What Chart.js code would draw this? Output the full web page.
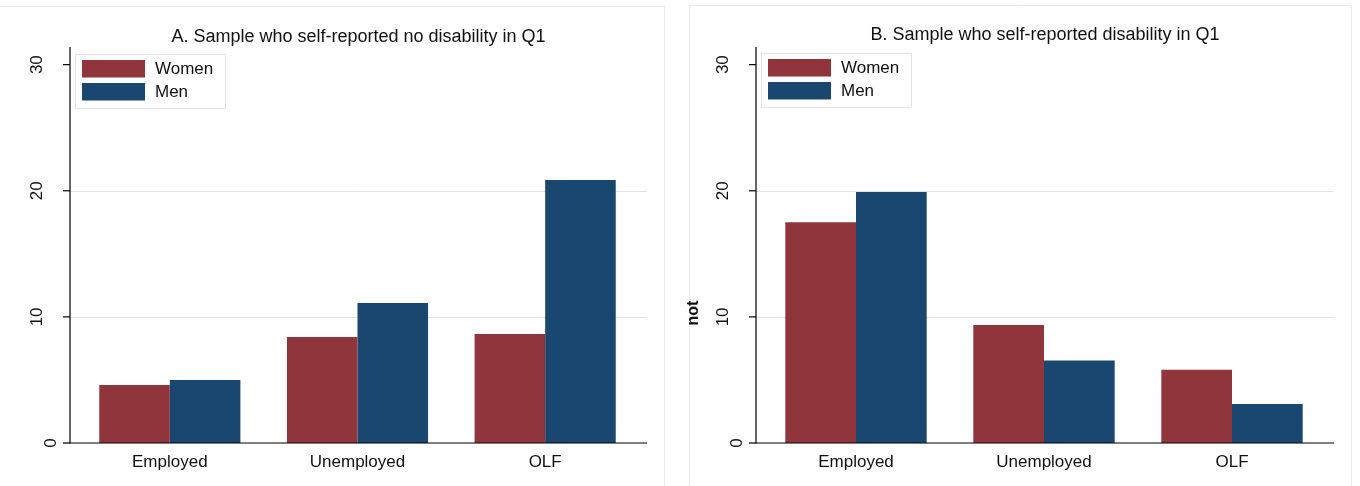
<!DOCTYPE html>
<html><head><meta charset="utf-8">
<script src="https://cdn.jsdelivr.net/npm/chart.js@4.4.1/dist/chart.umd.min.js"></script>
<style>
html,body{margin:0;padding:0;background:#fff;}
#wrap{position:relative;width:1360px;height:486px;overflow:hidden;}
canvas{position:absolute;top:0;}
</style></head><body>
<div id="wrap">
<canvas id="cA" width="680" height="486" style="left:0;width:680px;height:486px"></canvas>
<canvas id="cB" width="680" height="486" style="left:680px;width:680px;height:486px"></canvas>
</div>
<script>
const categories = ['Employed', 'Unemployed', 'OLF'];
const seriesNames = ['Women', 'Men'];
const womenNoDisability = [4.6, 8.4, 8.65];
const menNoDisability = [5.0, 11.1, 20.85];
const womenDisability = [17.5, 9.35, 5.8];
const menDisability = [19.9, 6.55, 3.1];
const yTicks = [0, 10, 20, 30];
const titleA = 'A. Sample who self-reported no disability in Q1';
const titleB = 'B. Sample who self-reported disability in Q1';
const yTitleB = 'not';
const seriesColors = ['#90353B', '#1A476F'];
const FONT = '"Liberation Sans", Arial, Helvetica, sans-serif';

function panelPlugin(p) {
  return {
    id: 'panel',
    beforeDatasetsDraw(chart) {
      const ctx = chart.ctx, ys = chart.scales.y;
      ctx.save();
      ctx.strokeStyle = '#e2e2e2';
      ctx.lineWidth = 1;
      for (let i = 1; i < yTicks.length - 1; i++) {
        const y = Math.round(ys.getPixelForValue(yTicks[i])) + 0.5;
        ctx.beginPath(); ctx.moveTo(p.axisX, y); ctx.lineTo(p.gridEnd, y); ctx.stroke();
      }
      ctx.restore();
    },
    afterDraw(chart) {
      const ctx = chart.ctx, ys = chart.scales.y, area = chart.chartArea;
      ctx.save();
      // panel frame
      ctx.strokeStyle = '#ebebeb'; ctx.lineWidth = 1;
      ctx.beginPath();
      ctx.moveTo(p.frameL + 0.5, 486); ctx.lineTo(p.frameL + 0.5, p.frameT + 0.5);
      ctx.lineTo(p.frameR + 0.5, p.frameT + 0.5); ctx.lineTo(p.frameR + 0.5, 486);
      ctx.stroke();
      // axes
      ctx.strokeStyle = '#000'; ctx.lineWidth = 1.2;
      const y0 = ys.getPixelForValue(yTicks[0]);
      ctx.beginPath(); ctx.moveTo(p.axisX, area.top); ctx.lineTo(p.axisX, y0 + 0.6); ctx.stroke();
      ctx.beginPath(); ctx.moveTo(p.axisX, y0); ctx.lineTo(p.gridEnd, y0); ctx.stroke();
      // ticks and labels
      ctx.fillStyle = '#111';
      ctx.font = '17px ' + FONT;
      ctx.textAlign = 'center'; ctx.textBaseline = 'middle';
      yTicks.forEach(v => {
        const y = ys.getPixelForValue(v);
        ctx.beginPath(); ctx.moveTo(p.axisX - 7, y); ctx.lineTo(p.axisX, y); ctx.stroke();
        const s = String(v);
        const w = ctx.measureText(s).width;
        const cx = p.axisX - 6 - 1.48 * w;
        ctx.save(); ctx.translate(cx, y); ctx.rotate(-Math.PI / 2);
        ctx.fillText(s, 0, 1); ctx.restore();
      });
      // title
      ctx.font = p.titleSize + 'px ' + FONT;
      ctx.fillStyle = '#111';
      ctx.fillText(p.title, (p.axisX + p.gridEnd) / 2, p.titleY);
      // y title
      if (p.yTitle) {
        ctx.font = 'bold 16px ' + FONT;
        ctx.save(); ctx.translate(p.yTitleX, p.yTitleY); ctx.rotate(-Math.PI / 2);
        ctx.fillText(p.yTitle, 0, 0); ctx.restore();
      }
      // legend
      const lx = p.axisX + 5, ly = p.legendY;
      ctx.fillStyle = '#fff';
      ctx.fillRect(lx, ly, 150, 54);
      ctx.strokeStyle = '#e4e4e4'; ctx.lineWidth = 1;
      ctx.strokeRect(lx + 0.5, ly + 0.5, 150, 54);
      ctx.font = '17px ' + FONT; ctx.textAlign = 'left';
      chart.data.datasets.forEach((ds, i) => {
        const sy = ly + 6 + i * 23;
        ctx.fillStyle = ds.backgroundColor;
        ctx.fillRect(lx + 7, sy, 63, 17.5);
        ctx.fillStyle = '#111';
        ctx.fillText(ds.label, lx + 80, sy + 9.5);
      });
      ctx.restore();
    }
  };
}

function makeChart(id, women, men, p) {
  return new Chart(document.getElementById(id), {
    type: 'bar',
    data: {
      labels: categories,
      datasets: [
        { label: seriesNames[0], data: women, backgroundColor: seriesColors[0], borderWidth: 0 },
        { label: seriesNames[1], data: men, backgroundColor: seriesColors[1], borderWidth: 0 }
      ]
    },
    options: {
      responsive: false,
      animation: false,
      devicePixelRatio: 1,
      categoryPercentage: 0.752,
      barPercentage: 1,
      layout: { padding: { left: p.areaL, right: 680 - p.areaR, top: 47, bottom: 0 } },
      plugins: { legend: { display: false }, title: { display: false }, tooltip: { enabled: false } },
      scales: {
        x: {
          offset: true,
          grid: { display: false, drawTicks: false },
          border: { display: false },
          ticks: { color: '#111', font: { family: FONT, size: 17 }, padding: 9, maxRotation: 0, autoSkip: false },
          afterFit(s) { s.height = 43; }
        },
        y: {
          display: false,
          min: 0, max: 31.4
        }
      }
    },
    plugins: [panelPlugin(p)]
  });
}

makeChart('cA', womenNoDisability, menNoDisability, {
  axisX: 70, areaL: 76, areaR: 639, gridEnd: 647,
  frameL: -1, frameT: 6, frameR: 664,
  title: titleA, titleSize: 18, titleY: 37, legendY: 54
});
makeChart('cB', womenDisability, menDisability, {
  axisX: 76, areaL: 82, areaR: 646, gridEnd: 654,
  frameL: 9, frameT: 5, frameR: 671,
  title: titleB, titleSize: 18, titleY: 35, legendY: 53,
  yTitle: yTitleB, yTitleX: 14, yTitleY: 313
});
</script>
</body></html>
